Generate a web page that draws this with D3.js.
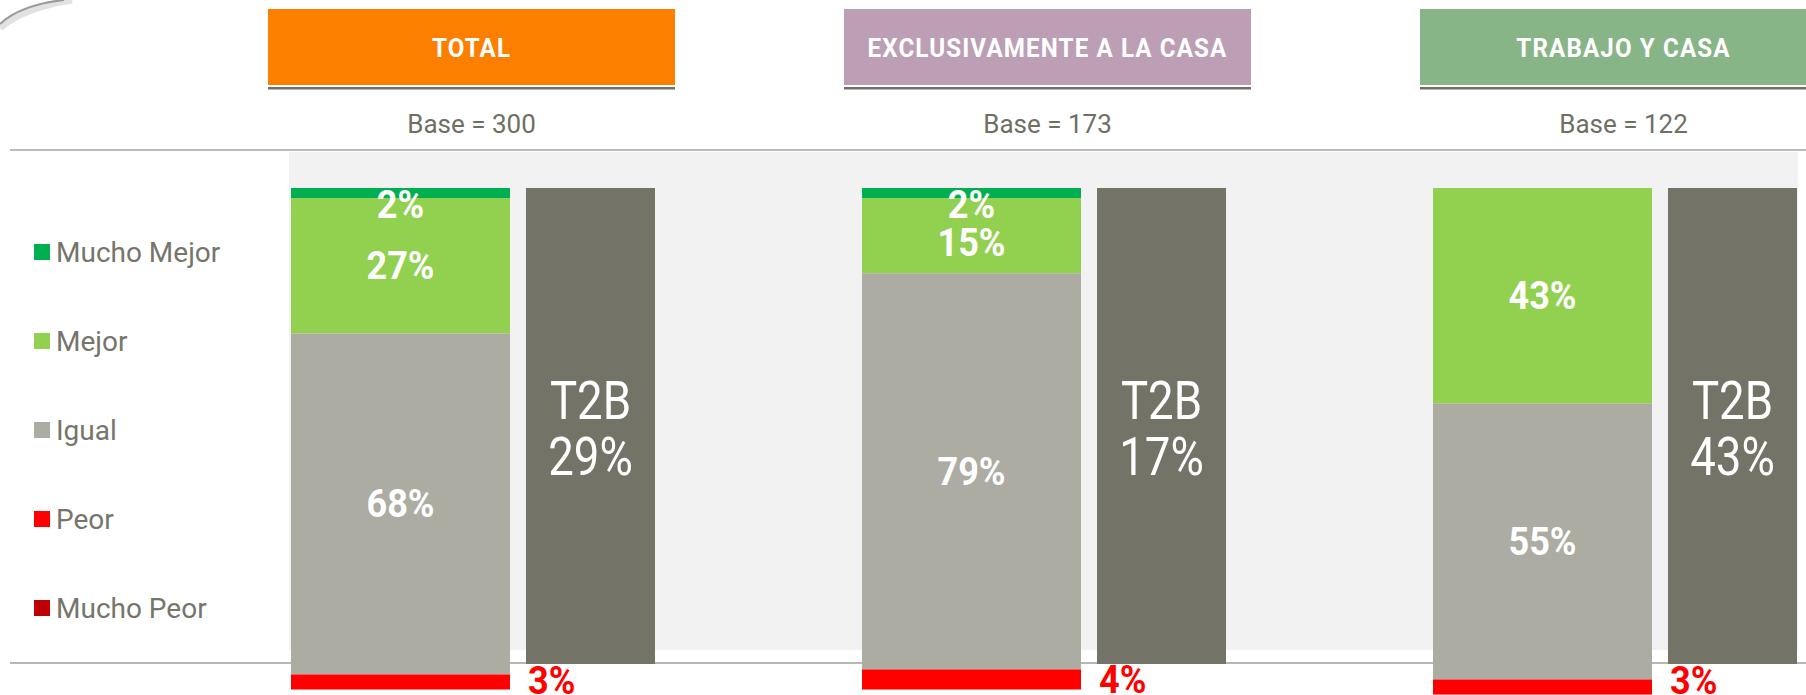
<!DOCTYPE html>
<html>
<head>
<meta charset="utf-8">
<script src="https://cdn.jsdelivr.net/npm/d3@7"></script>
<style>
  html, body { margin: 0; padding: 0; background: #ffffff; }
  svg { display: block; }
  text { font-family: Roboto, "Open Sans", sans-serif; }
</style>
</head>
<body>
<svg id="chart" width="1806" height="695"></svg>
<script>
// ---------------- DATA ----------------
const groups = ["TOTAL", "EXCLUSIVAMENTE A LA CASA", "TRABAJO Y CASA"];
const headerColors = ["#fc7f00", "#bc9fb4", "#87b587"];
const bases = [300, 173, 122];
const categories = ["Mucho Mejor", "Mejor", "Igual", "Peor", "Mucho Peor"];
const categoryColors = ["#00b050", "#92d050", "#acaca3", "#ff0000", "#c00000"];
const muchoMejor = [2, 2, 0];
const mejor = [27, 15, 43];
const igual = [68, 79, 55];
const peor = [3, 4, 3];
const muchoPeor = [0, 0, 0];
const t2b = [29, 17, 43];

// ---------------- SETUP ----------------
const W = 1806, H = 695;
const svg = d3.select("#chart");

const rows = groups.map((g, i) => ({
  group: g,
  "Mucho Mejor": muchoMejor[i],
  "Mejor": mejor[i],
  "Igual": igual[i],
  "Peor": peor[i],
  "Mucho Peor": muchoPeor[i],
  t2b: t2b[i],
  base: bases[i]
}));

const color = d3.scaleOrdinal().domain(categories).range(categoryColors);
const headerColor = d3.scaleOrdinal().domain(groups).range(headerColors);

// scales
const y = d3.scaleLinear().domain([0, 100]).range([188, 689.5]);
const groupStep = 571, groupW = 364;
const x = d3.scaleBand().domain(groups)
  .range([291, 291 + groupStep * 2 + groupW])
  .paddingInner((groupStep - groupW) / groupStep).paddingOuter(0);
const hStep = 576, hW = 407;
const xh = d3.scaleBand().domain(groups)
  .range([268, 268 + hStep * 2 + hW])
  .paddingInner((hStep - hW) / hStep).paddingOuter(0);
const legendY = d3.scalePoint().domain(categories).range([252, 608]);

const stackW = () => x.bandwidth() * 219 / 364;
const gapW = () => x.bandwidth() * 16 / 364;
const t2bX = g => x(g) + stackW() + gapW();
const t2bW = () => x.bandwidth() - stackW() - gapW();

function ctext(parent, tx, ty, str, o) {
  return parent.append("text")
    .attr("transform", `translate(${tx},${ty}) scale(${o.sx || 1},1)`)
    .attr("text-anchor", o.anchor || "middle")
    .attr("font-size", o.size)
    .attr("font-weight", o.weight || "normal")
    .attr("letter-spacing", o.ls || 0)
    .attr("fill", o.fill)
    .text(str);
}

// ---------------- DECOR ----------------
svg.append("path").attr("d", "M0,28 Q22,8 72,0")
  .attr("fill", "none").attr("stroke", "#e2e2e2").attr("stroke-width", 7);
svg.append("path").attr("d", "M0,24 Q20,5 64,0")
  .attr("fill", "none").attr("stroke", "#9a9a9a").attr("stroke-width", 2);

// ---------------- HEADERS ----------------
const headers = svg.append("g");
groups.forEach((g) => {
  headers.append("rect").attr("x", xh(g)).attr("y", 9)
    .attr("width", xh.bandwidth()).attr("height", 76)
    .attr("fill", headerColor(g));
  headers.append("rect").attr("x", xh(g)).attr("y", 87)
    .attr("width", xh.bandwidth()).attr("height", 2.5)
    .attr("fill", "#707068");
  ctext(headers, xh(g) + xh.bandwidth() / 2, 56.5, g,
    { size: 26, weight: "bold", fill: "#ffffff", ls: 1.2, sx: 0.93 });
});
rows.forEach(r => {
  ctext(svg, xh(r.group) + xh.bandwidth() / 2, 133, "Base = " + r.base,
    { size: 26, fill: "#6f6f64" });
});

// ---------------- PANEL & RULES ----------------
svg.append("rect").attr("x", 289).attr("y", 152).attr("width", 1509).attr("height", 498)
  .attr("fill", "#f2f2f2");
svg.append("rect").attr("x", 10).attr("y", 149).attr("width", W - 10).attr("height", 2)
  .attr("fill", "#bdbdb5");
const baseLineY = 662;
svg.append("rect").attr("x", 10).attr("y", baseLineY).attr("width", W - 10).attr("height", 2)
  .attr("fill", "#b8b8b0");

// ---------------- BARS ----------------
const stack = d3.stack().keys(categories);
const series = stack(rows);

const barsG = svg.append("g");
series.forEach(s => {
  barsG.selectAll(null).data(s).join("rect")
    .attr("x", d => x(d.data.group))
    .attr("y", d => y(d[0]))
    .attr("width", stackW())
    .attr("height", d => y(d[1]) - y(d[0]))
    .attr("fill", color(s.key));
});

// T2B boxes
barsG.selectAll(null).data(rows).join("rect")
  .attr("x", d => t2bX(d.group))
  .attr("y", y(0))
  .attr("width", t2bW())
  .attr("height", baseLineY + 2 - y(0))
  .attr("fill", "#737367");

// ---------------- LABELS ----------------
const labels = svg.append("g");
rows.forEach((r, i) => {
  const cx = x(r.group) + stackW() / 2;
  let prev = y(0) + 16 - 38;
  ["Mucho Mejor", "Mejor", "Igual"].forEach(k => {
    const s = series.find(ss => ss.key === k)[i];
    if (r[k] > 0) {
      let c = (y(s[0]) + y(s[1])) / 2;
      c = Math.max(c, prev + 38);
      prev = c;
      ctext(labels, cx, c + 13.5, r[k] + "%",
        { size: 38, weight: "bold", fill: "#ffffff", sx: 0.95 });
    }
  });
  const sp = series.find(ss => ss.key === "Peor")[i];
  if (r["Peor"] > 0) {
    const c = (y(sp[0]) + y(sp[1])) / 2;
    ctext(labels, t2bX(r.group) + 2, Math.min(c + 13.5, 694), r["Peor"] + "%",
      { size: 38, weight: "bold", fill: "#ff0000", sx: 0.95, anchor: "start" });
  }
  const tc = t2bX(r.group) + t2bW() / 2;
  ctext(labels, tc, 419, "T2B", { size: 53, fill: "#ffffff", sx: 0.86 });
  ctext(labels, tc, 475, r.t2b + "%", { size: 53, fill: "#ffffff", sx: 0.86 });
});

// ---------------- LEGEND ----------------
const legend = svg.append("g");
categories.forEach(c => {
  legend.append("rect").attr("x", 34).attr("y", legendY(c) - 8)
    .attr("width", 16).attr("height", 16).attr("fill", color(c));
  ctext(legend, 56, legendY(c) + 10, c, { size: 28, fill: "#75756b", anchor: "start" });
});
</script>
</body>
</html>
